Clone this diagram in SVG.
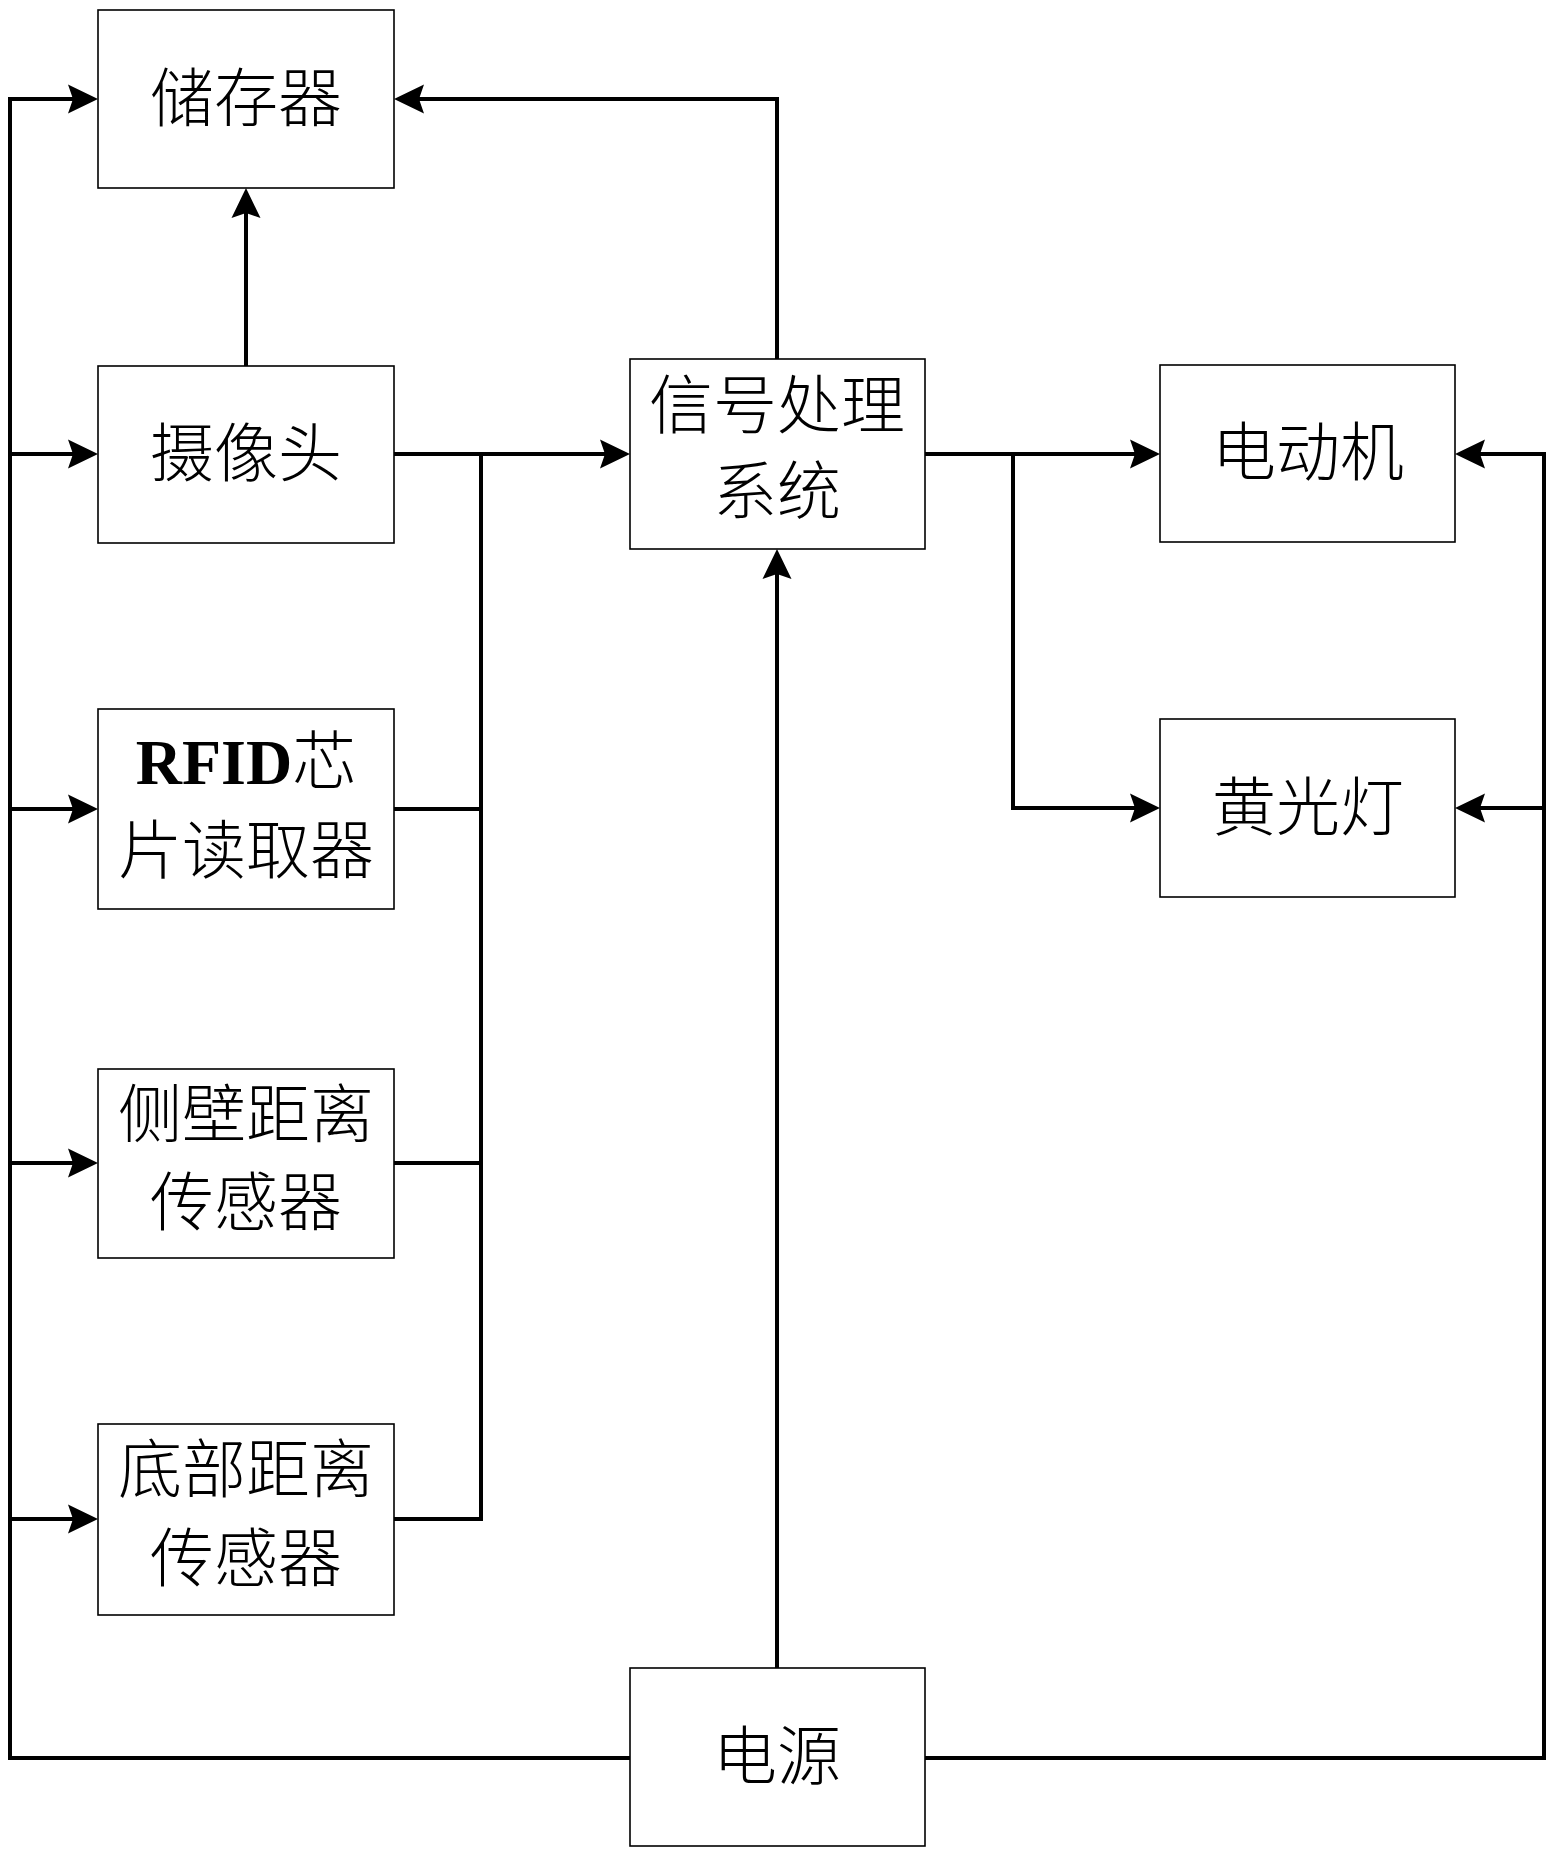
<svg xmlns="http://www.w3.org/2000/svg" width="1553" height="1855" viewBox="0 0 1553 1855">
<style>
.box{fill:#fff;stroke:#000;stroke-width:1.6}
.lbl{font-family:"Liberation Serif","Noto Sans CJK SC",serif;font-size:64px;font-weight:300;fill:#000;text-anchor:middle;dominant-baseline:central}
.con{fill:none;stroke:#000;stroke-width:4;stroke-linejoin:miter;stroke-linecap:butt}
.arr{marker-end:url(#ah)}
</style>
<defs>
<marker id="ah" viewBox="0 0 30 30" markerWidth="30" markerHeight="30" refX="5" refY="15" orient="auto" markerUnits="userSpaceOnUse">
<path d="M0,0.5 L30,15 L0,29.5 L5,15 Z" fill="#000"/>
</marker>
</defs>
<rect width="1553" height="1855" fill="#fff"/>
<g id="connectors">
<path class="con" d="M630,1758 H10 V99 H73"/>
<path class="con arr" d="M10,99 H73"/>
<path class="con arr" d="M10,454 H73"/>
<path class="con arr" d="M10,809 H73"/>
<path class="con arr" d="M10,1163 H73"/>
<path class="con arr" d="M10,1519 H73"/>
<path class="con arr" d="M246,366 V213"/>
<path class="con arr" d="M777,359 V99 H419"/>
<path class="con arr" d="M394,454 H605"/>
<path class="con" d="M481,454 V1519 H394"/>
<path class="con" d="M394,809 H481"/>
<path class="con" d="M394,1163 H481"/>
<path class="con arr" d="M777,1668 V574"/>
<path class="con arr" d="M925,454 H1135"/>
<path class="con arr" d="M1013,454 V808 H1135"/>
<path class="con arr" d="M925,1758 H1544 V454 H1480"/>
<path class="con arr" d="M1544,808 H1480"/>
</g>
<g id="storage">
<rect class="box" x="98" y="10" width="296" height="178"/>
<text class="lbl" x="246" y="99">储存器</text>
</g>
<g id="camera">
<rect class="box" x="98" y="366" width="296" height="177"/>
<text class="lbl" x="246" y="454">摄像头</text>
</g>
<g id="rfid">
<rect class="box" x="98" y="709" width="296" height="200"/>
<text class="lbl" x="246" y="762"><tspan font-weight="bold">RFID</tspan>芯</text>
<text class="lbl" x="246" y="851">片读取器</text>
</g>
<g id="side-sensor">
<rect class="box" x="98" y="1069" width="296" height="189"/>
<text class="lbl" x="246" y="1115">侧壁距离</text>
<text class="lbl" x="246" y="1203">传感器</text>
</g>
<g id="bottom-sensor">
<rect class="box" x="98" y="1424" width="296" height="191"/>
<text class="lbl" x="246" y="1470">底部距离</text>
<text class="lbl" x="246" y="1559">传感器</text>
</g>
<g id="signal">
<rect class="box" x="630" y="359" width="295" height="190"/>
<text class="lbl" x="777" y="406">信号处理</text>
<text class="lbl" x="777" y="492">系统</text>
</g>
<g id="motor">
<rect class="box" x="1160" y="365" width="295" height="177"/>
<text class="lbl" x="1308" y="453">电动机</text>
</g>
<g id="yellow-light">
<rect class="box" x="1160" y="719" width="295" height="178"/>
<text class="lbl" x="1308" y="808">黄光灯</text>
</g>
<g id="power">
<rect class="box" x="630" y="1668" width="295" height="178"/>
<text class="lbl" x="777" y="1757">电源</text>
</g>
</svg>
